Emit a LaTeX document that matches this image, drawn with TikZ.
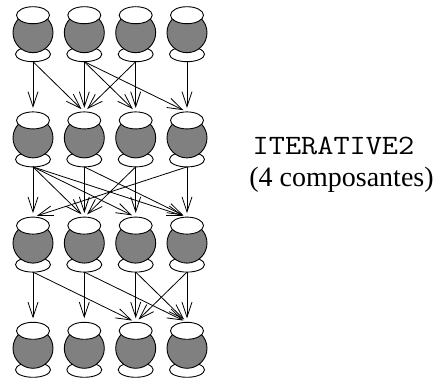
\documentclass[tikz,border=0pt]{standalone}
\usepackage{fontspec}
\usepackage{graphicx}
\setmainfont{Liberation Serif}
\usetikzlibrary{shapes.geometric,arrows.meta}
\begin{document}
\begin{tikzpicture}[x=1pt,y=-1pt,
  every node/.style={inner sep=0pt, outer sep=0pt},
  topell/.style={ellipse, draw, fill=white, line width=0.9pt, minimum width=33pt, minimum height=17pt},
  botell/.style={ellipse, draw, fill=white, line width=0.9pt, minimum width=35pt, minimum height=15pt},
  ball/.style={circle, draw, fill={rgb,255:red,128;green,128;blue,128}, line width=0.9pt, minimum size=40pt},
  arr/.style={line width=0.8pt, -{Straight Barb[length=15pt,width=10pt,line width=0.8pt]}, shorten >=4pt},
  lbl/.style={anchor=base, font=\fontsize{28}{34}\selectfont}
]
\useasboundingbox (0,0) rectangle (437,382);
\foreach \c/\x in {1/33,2/84.3,3/135.7,4/187}{
  \foreach \r/\y in {1/15.2,2/120.4,3/225.6,4/330.8}{
    \node[botell] (b\r\c) at (\x,\y+39) {};
    \node[ball] (g\r\c) at (\x,\y+17.5) {};
    \node[topell] (t\r\c) at (\x,\y) {};
  }
}
\foreach \s/\d in {1/1,1/2,2/2,2/3,2/4,3/2,3/3,4/4}
  \draw[arr] (b1\s.south) -- (t2\d.north);
\foreach \s/\d in {1/1,1/2,1/3,1/4,2/2,2/4,3/2,3/3,4/1,4/4}
  \draw[arr] (b2\s.south) -- (t3\d.north);
\foreach \s/\d in {1/1,1/3,2/2,2/4,3/3,3/4,4/3,4/4}
  \draw[arr] (b3\s.south) -- (t4\d.north);
\node[lbl] (title) at (333.5,155) {\scalebox{1.12}[1]{\ttfamily ITERATIVE2}};
\node[lbl] (sub) at (341.5,187) {(4 composantes)};
\end{tikzpicture}
\end{document}
